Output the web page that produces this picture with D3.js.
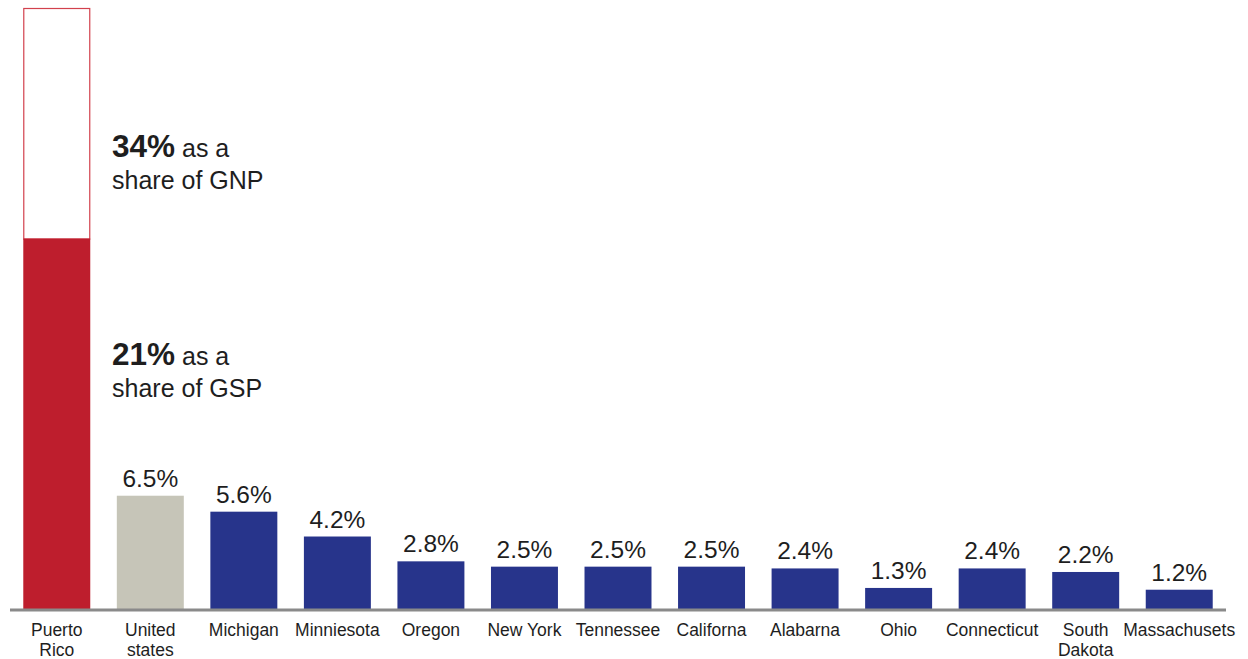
<!DOCTYPE html>
<html>
<head>
<meta charset="utf-8">
<script src="https://cdn.jsdelivr.net/npm/d3@7"></script>
<style>
  html, body { margin: 0; padding: 0; background: #fff; }
  svg { display: block; font-family: "Liberation Sans", Arial, sans-serif; }
</style>
</head>
<body>
<svg id="chart" width="1248" height="659"></svg>
<script>
// Share values (%) per territory / state
const categories = ["Puerto Rico", "United states", "Michigan", "Minniesota", "Oregon", "New York",
  "Tennessee", "Californa", "Alabarna", "Ohio", "Connecticut", "South Dakota", "Massachusets"];
const categoryLines = [["Puerto", "Rico"], ["United", "states"], ["Michigan"], ["Minniesota"], ["Oregon"],
  ["New York"], ["Tennessee"], ["Californa"], ["Alabarna"], ["Ohio"], ["Connecticut"], ["South", "Dakota"], ["Massachusets"]];
const values = [21, 6.5, 5.6, 4.2, 2.8, 2.5, 2.5, 2.5, 2.4, 1.3, 2.4, 2.2, 1.2];
const valueLabels = ["21%", "6.5%", "5.6%", "4.2%", "2.8%", "2.5%", "2.5%", "2.5%", "2.4%", "1.3%", "2.4%", "2.2%", "1.2%"];
const gnpShare = 34;       // Puerto Rico, as a share of GNP
const gspShare = 21;       // Puerto Rico, as a share of GSP

const svg = d3.select("#chart");

const x = d3.scaleBand()
  .domain(categories)
  .range([10, 1226])
  .paddingInner(0.284)
  .paddingOuter(0.142);

const y = d3.scaleLinear()
  .domain([0, 34])
  .range([611, 8]);

const colorFor = (d, i) => i === 0 ? "#be1e2d" : (i === 1 ? "#c6c5b8" : "#27348b");

// Puerto Rico GNP extension (outlined)
svg.append("rect")
  .attr("x", x(categories[0]) + 0.5)
  .attr("y", y(gnpShare) + 0.5)
  .attr("width", x.bandwidth() - 1)
  .attr("height", y(gspShare) - y(gnpShare))
  .attr("fill", "#fff")
  .attr("stroke", "#d2414d")
  .attr("stroke-width", 1.2);

// Bars
svg.append("g").selectAll("rect")
  .data(values)
  .join("rect")
  .attr("x", (d, i) => x(categories[i]))
  .attr("y", d => y(d))
  .attr("width", x.bandwidth())
  .attr("height", d => y(0) - y(d))
  .attr("fill", colorFor);

// Value labels (all but Puerto Rico, which gets annotations)
svg.append("g").selectAll("text")
  .data(values.slice(1))
  .join("text")
  .attr("x", (d, i) => x(categories[i + 1]) + x.bandwidth() / 2)
  .attr("y", d => y(d) - 9)
  .attr("text-anchor", "middle")
  .attr("font-size", 24.5)
  .attr("fill", "#1e1e1e")
  .text((d, i) => valueLabels[i + 1]);

// Baseline
svg.append("line")
  .attr("x1", 10).attr("x2", 1226)
  .attr("y1", 610).attr("y2", 610)
  .attr("stroke", "#8a8a8a")
  .attr("stroke-width", 3.2);

// Category labels
const cats = svg.append("g").selectAll("text")
  .data(categoryLines)
  .join("text")
  .attr("x", (d, i) => x(categories[i]) + x.bandwidth() / 2)
  .attr("y", 636)
  .attr("text-anchor", "middle")
  .attr("font-size", 17.5)
  .attr("fill", "#1e1e1e");
cats.each(function(lines, i) {
  const t = d3.select(this);
  const cx = x(categories[i]) + x.bandwidth() / 2;
  lines.forEach((ln, k) => {
    t.append("tspan").attr("x", cx).attr("dy", k === 0 ? 0 : 20).text(ln);
  });
});

// Puerto Rico annotations
const notes = [
  { big: gnpShare + "%", small: " as a", line2: "share of GNP", y: 157 },
  { big: gspShare + "%", small: " as a", line2: "share of GSP", y: 365 }
];
notes.forEach(n => {
  const t = svg.append("text").attr("x", 112).attr("y", n.y).attr("fill", "#1e1e1e");
  t.append("tspan").attr("font-size", 31.5).attr("font-weight", "bold").text(n.big);
  t.append("tspan").attr("font-size", 25).text(n.small);
  svg.append("text").attr("x", 112).attr("y", n.y + 32)
    .attr("font-size", 25).attr("fill", "#1e1e1e").text(n.line2);
});
</script>
</body>
</html>
